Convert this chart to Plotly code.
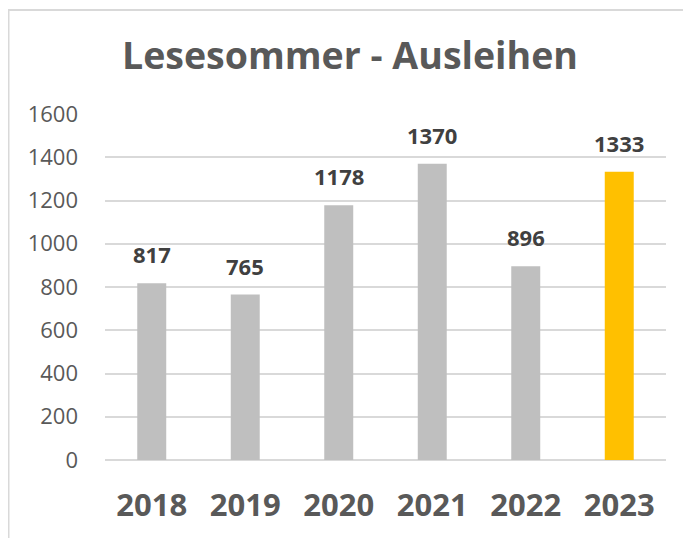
import plotly.graph_objects as go

years = ["2018", "2019", "2020", "2021", "2022", "2023"]
loans = [817, 765, 1178, 1370, 896, 1333]
bar_colors = ["#bfbfbf", "#bfbfbf", "#bfbfbf", "#bfbfbf", "#bfbfbf", "#ffc000"]
y_ticks = [0, 200, 400, 600, 800, 1000, 1200, 1400, 1600]

# page body adds an 8px offset, so the figure is 8px smaller
W, H = 683, 530
L, R, T, B = 97, 25, 106, 78
pw, ph = W - L - R, H - T - B

def px_x(px):
    return (px - L) / pw

def px_y(py):
    return (H - B - py) / ph

pos = list(range(len(years)))

fig = go.Figure()
fig.add_trace(go.Bar(x=pos, y=loans, width=0.31, marker=dict(color=bar_colors, line=dict(width=0)),
                     hoverinfo="skip"))

for p, v in zip(pos, loans):
    fig.add_annotation(x=p, y=v, xref="x", yref="y", text=str(v), showarrow=False,
                       yanchor="bottom", yshift=12,
                       font=dict(family="Open Sans", size=22, color="#404040", weight="bold"))

border = "#d9d9d9"
fig.add_shape(type="line", xref="paper", yref="paper", x0=px_x(0), x1=px_x(700),
              y0=px_y(2), y1=px_y(2), line=dict(color=border, width=2))
fig.add_shape(type="line", xref="paper", yref="paper", x0=px_x(0.5), x1=px_x(0.5),
              y0=px_y(2), y1=px_y(560), line=dict(color=border, width=2))

fig.update_layout(
    width=W, height=H,
    margin=dict(l=L, r=R, t=T, b=B, pad=0),
    paper_bgcolor="white", plot_bgcolor="white",
    showlegend=False,
    title=dict(text="<b>Lesesommer - Ausleihen</b>", x=(350 - 8) / W, xref="container",
               xanchor="center", y=1 - 48 / H, yref="container", yanchor="middle",
               font=dict(family="Open Sans", size=37.5, color="#595959")),
    xaxis=dict(type="linear", range=[-0.5, len(years) - 0.5], tickmode="array",
               tickvals=pos, ticktext=years,
               showgrid=False, showline=False, zeroline=False, ticks="",
               ticklabelstandoff=24,
               tickfont=dict(family="Open Sans", size=31, color="#595959", weight="bold")),
    yaxis=dict(type="linear", range=[0, 1600], tickmode="array", tickvals=y_ticks,
               showgrid=True, gridcolor=border, gridwidth=1.5,
               zeroline=True, zerolinecolor=border, zerolinewidth=2, showline=False, ticks="",
               ticklabelstandoff=26,
               tickfont=dict(family="Open Sans", size=22, color="#595959")),
)

fig.write_html("out.html")
